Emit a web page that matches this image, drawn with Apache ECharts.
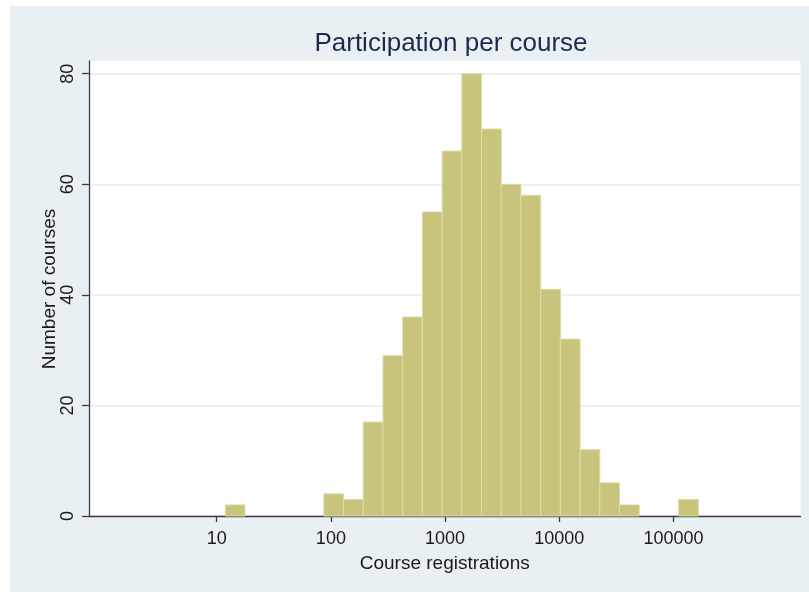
<!DOCTYPE html>
<html>
<head>
<meta charset="utf-8">
<script src="https://cdn.jsdelivr.net/npm/echarts@6/dist/echarts.min.js"></script>
<style>
html,body{margin:0;padding:0;background:#ffffff;}
#chart{width:809px;height:592px;}
</style>
</head>
<body>
<div id="chart"></div>
<script>
// Histogram of log10(course registrations): 24 equal-width bins
var binStart = 1.0753;      // log10 of lower edge of first bin
var binWidth = 0.1726;      // bin width in log10 units
var counts = [2, 0, 0, 0, 0, 4, 3, 17, 29, 36, 55, 66, 80, 70, 60, 58, 41, 32, 12, 6, 2, 0, 0, 3];
var xTickValues = [10, 100, 1000, 10000, 100000];
var xTickLabels = ['10', '100', '1000', '10000', '100000'];
var yTickValues = [0, 20, 40, 60, 80];

var barData = counts.map(function (c, i) {
  return [binStart + i * binWidth, binStart + (i + 1) * binWidth, c];
});
var xTickPos = xTickValues.map(function (v) { return Math.log10(v); });

var FONT = '"Liberation Sans", Arial, Helvetica, sans-serif';
var chart = echarts.init(document.getElementById('chart'), null, {renderer: 'canvas'});

chart.setOption({
  backgroundColor: '#ffffff',
  animation: false,
  graphic: [{
    type: 'rect', z: -10, silent: true,
    shape: {x: 10, y: 6, width: 799, height: 586},
    style: {fill: '#e8f0f3'}
  }, {
    type: 'text', silent: true, z: 10,
    x: 50, y: 289, rotation: Math.PI / 2,
    style: {
      text: 'Number of courses', fontFamily: FONT, fontSize: 19, fill: '#1a1a1a',
      align: 'center', verticalAlign: 'middle'
    }
  }],
  title: {
    text: 'Participation per course',
    left: 446, top: 26, textAlign: 'center',
    textStyle: {fontFamily: FONT, fontSize: 26, fontWeight: 'normal', color: '#1c2a4d'}
  },
  grid: {
    left: 89, right: 8.5, top: 61, bottom: 76,
    show: true, backgroundColor: '#ffffff', borderWidth: 0
  },
  xAxis: {
    type: 'value', min: -0.118, max: 6.112,
    name: 'Course registrations', nameLocation: 'middle', nameGap: 38,
    nameTextStyle: {fontFamily: FONT, fontSize: 19, color: '#1a1a1a'},
    axisLine: {show: true, onZero: false, lineStyle: {color: '#3c3c3c', width: 1.3}},
    axisTick: {show: true, length: 6, customValues: xTickPos, lineStyle: {color: '#3c3c3c', width: 1.3}},
    axisLabel: {
      customValues: xTickPos, margin: 14,
      fontFamily: FONT, fontSize: 18, color: '#1a1a1a',
      formatter: function (v) {
        for (var i = 0; i < xTickPos.length; i++) {
          if (Math.abs(xTickPos[i] - v) < 1e-6) return xTickLabels[i];
        }
        return '';
      }
    },
    splitLine: {show: false}
  },
  yAxis: {
    type: 'value', min: 0, max: 82.3, interval: 20,
    axisLine: {show: true, onZero: false, lineStyle: {color: '#3c3c3c', width: 1.3}},
    axisTick: {show: true, length: 7, customValues: yTickValues, lineStyle: {color: '#3c3c3c', width: 1.3}},
    axisLabel: {
      customValues: yTickValues, rotate: 90, margin: 12,
      fontFamily: FONT, fontSize: 18, color: '#1a1a1a'
    },
    splitLine: {show: true, lineStyle: {color: '#e6eef0', width: 1.5}}
  },
  series: [{
    type: 'custom',
    data: barData,
    encode: {x: [0, 1], y: 2},
    renderItem: function (params, api) {
      var c = api.value(2);
      if (!c) return null;
      var p0 = api.coord([api.value(0), c]);
      var p1 = api.coord([api.value(1), 0]);
      return {
        type: 'rect',
        shape: {x: p0[0], y: p0[1], width: p1[0] - p0[0], height: p1[1] - p0[1]},
        style: {fill: '#c9c47c', stroke: '#dedba6', lineWidth: 1}
      };
    }
  }]
});
</script>
</body>
</html>
